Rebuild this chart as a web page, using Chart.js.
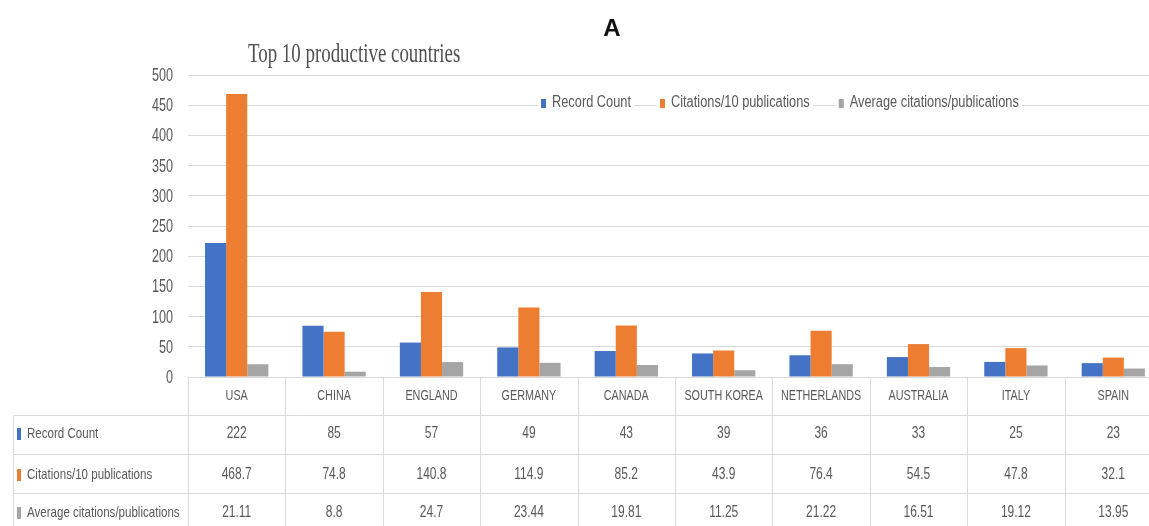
<!DOCTYPE html>
<html>
<head>
<meta charset="utf-8">
<script src="https://cdn.jsdelivr.net/npm/chart.js@4.4.1/dist/chart.umd.min.js"></script>
<style>
  html, body { margin: 0; padding: 0; background: #fff; overflow: hidden; }
  #wrap { position: relative; width: 1162px; height: 526px; }
</style>
</head>
<body>
<div id="wrap"><canvas id="chart"></canvas></div>
<script>
// Top 10 productive countries: publication counts and citation measures
const categories = ['USA', 'CHINA', 'ENGLAND', 'GERMANY', 'CANADA', 'SOUTH KOREA', 'NETHERLANDS', 'AUSTRALIA', 'ITALY', 'SPAIN'];
const recordCount = [222, 85, 57, 49, 43, 39, 36, 33, 25, 23];
const citationsPer10 = [468.7, 74.8, 140.8, 114.9, 85.2, 43.9, 76.4, 54.5, 47.8, 32.1];
const avgCitations = [21.11, 8.8, 24.7, 23.44, 19.81, 11.25, 21.22, 16.51, 19.12, 13.95];
const seriesNames = ['Record Count', 'Citations/10 publications', 'Average citations/publications'];
const seriesColors = ['#4472C4', '#ED7D31', '#A5A5A5'];
const yTickValues = [0, 50, 100, 150, 200, 250, 300, 350, 400, 450, 500];

const seriesValues = [recordCount, citationsPer10, avgCitations];
const SANS = '"Liberation Sans", Arial, sans-serif';
const SERIF = '"Liberation Serif", "Times New Roman", serif';
const TEXT_GREY = '#595959';
const LINE_GREY = '#d9d9d9';

// Draws text squeezed horizontally by factor k (narrow office-style lettering)
function narrowText(ctx, text, x, y, size, k, align, family) {
  ctx.save();
  ctx.font = size + 'px ' + (family || SANS);
  const w = ctx.measureText(text).width * k;
  const x0 = align === 'center' ? x - w / 2 : align === 'right' ? x - w : x;
  ctx.translate(x0, y);
  ctx.scale(k, 1);
  ctx.textAlign = 'left';
  ctx.fillText(text, 0, 0);
  ctx.restore();
  return w;
}

// Heading, axis labels, legend and data table under the plot
const decorations = {
  id: 'decorations',
  afterDraw(chart) {
    const ctx = chart.ctx;
    const x = chart.scales.x;
    const y = chart.scales.y;
    const area = chart.chartArea;
    ctx.save();
    ctx.textBaseline = 'middle';

    // panel letter
    ctx.fillStyle = '#111';
    ctx.font = 'bold 24px ' + SANS;
    ctx.textAlign = 'center';
    ctx.fillText('A', 612, 29);

    // chart title
    ctx.fillStyle = '#505050';
    ctx.textBaseline = 'alphabetic';
    narrowText(ctx, 'Top 10 productive countries', 248, 62, 27, 0.70, 'left', SERIF);
    ctx.textBaseline = 'middle';

    // value axis labels
    ctx.fillStyle = TEXT_GREY;
    y.ticks.forEach(t => {
      narrowText(ctx, String(t.value), 173, y.getPixelForValue(t.value) + 1, 18, 0.70, 'right');
    });

    // legend
    ctx.textBaseline = 'alphabetic';
    const lk = 0.8, lsize = 16;
    let lx = 541;
    const base = 107;
    seriesNames.forEach((name, i) => {
      ctx.font = lsize + 'px ' + SANS;
      const w = ctx.measureText(name).width * lk;
      ctx.fillStyle = '#fff';
      ctx.fillRect(lx - 3, base - 15, w + 17, 19);
      ctx.fillStyle = seriesColors[i];
      ctx.fillRect(lx, base - 8, 5, 9);
      ctx.fillStyle = TEXT_GREY;
      narrowText(ctx, name, lx + 11, base, lsize, lk, 'left');
      lx += 11 + w + 29;
    });
    ctx.textBaseline = 'middle';

    // data table
    const n = categories.length;
    const colW = (area.right - area.left) / n;
    const rowLines = [415, 454, 493];
    const rowMids = [396, 434, 475, 513];
    const tableLeft = 13;

    ctx.strokeStyle = LINE_GREY;
    ctx.lineWidth = 1;
    ctx.beginPath();
    for (let i = 0; i <= n; i++) {
      const cx = Math.round(area.left + i * colW) + 0.5;
      ctx.moveTo(cx, area.bottom);
      ctx.lineTo(cx, 526);
    }
    rowLines.forEach(ry => {
      ctx.moveTo(tableLeft, ry + 0.5);
      ctx.lineTo(area.right, ry + 0.5);
    });
    ctx.moveTo(tableLeft + 0.5, rowLines[0]);
    ctx.lineTo(tableLeft + 0.5, 526);
    ctx.stroke();

    // header row: country names
    ctx.fillStyle = TEXT_GREY;
    categories.forEach((c, i) => {
      narrowText(ctx, c, x.getPixelForValue(i), rowMids[0], 15, 0.72, 'center');
    });

    // value rows
    seriesValues.forEach((vals, r) => {
      const yMid = rowMids[r + 1];
      ctx.fillStyle = seriesColors[r];
      ctx.fillRect(tableLeft + 4, yMid - 6, 4, 12);
      ctx.fillStyle = TEXT_GREY;
      narrowText(ctx, seriesNames[r], tableLeft + 14, yMid, 15, 0.77, 'left');
      vals.forEach((v, i) => {
        narrowText(ctx, String(v), x.getPixelForValue(i), yMid, 16, 0.75, 'center');
      });
    });

    ctx.restore();
  }
};

new Chart(document.getElementById('chart'), {
  type: 'bar',
  data: {
    labels: categories,
    datasets: seriesNames.map((name, i) => ({
      label: name,
      data: seriesValues[i],
      backgroundColor: seriesColors[i],
      borderWidth: 0,
      categoryPercentage: 0.65,
      barPercentage: 1.0
    }))
  },
  options: {
    responsive: true,
    maintainAspectRatio: false,
    animation: false,
    devicePixelRatio: 1,
    layout: { padding: { top: 75, bottom: 149, left: 0, right: 0 } },
    plugins: {
      legend: { display: false },
      title: { display: false },
      tooltip: { enabled: false }
    },
    scales: {
      x: { display: false },
      y: {
        min: yTickValues[0],
        max: yTickValues[yTickValues.length - 1],
        afterFit(scale) { scale.width = 188; },
        afterBuildTicks(scale) { scale.ticks = yTickValues.map(v => ({ value: v })); },
        ticks: { display: false },
        grid: { color: LINE_GREY, drawTicks: false },
        border: { display: false }
      }
    }
  },
  plugins: [decorations]
});
</script>
</body>
</html>
